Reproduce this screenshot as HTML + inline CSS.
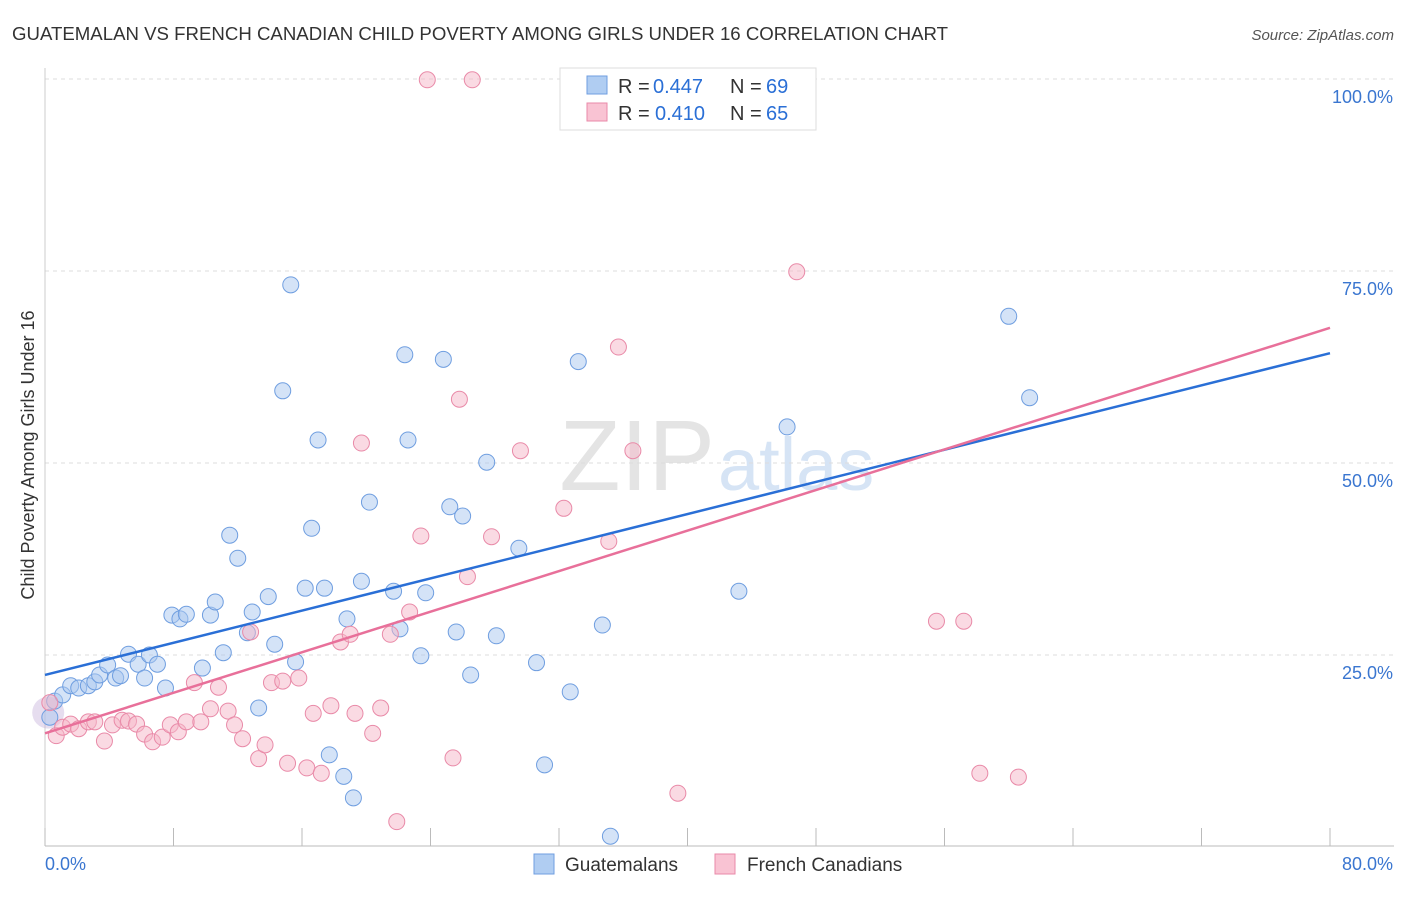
<!DOCTYPE html>
<html><head><meta charset="utf-8">
<style>
body{margin:0;background:#fff;font-family:"Liberation Sans",sans-serif;}
svg text{font-family:"Liberation Sans",sans-serif;}
</style></head>
<body>
<svg width="1406" height="892" xmlns="http://www.w3.org/2000/svg">
<text x="12" y="40" font-size="18.5" fill="#333" textLength="936" lengthAdjust="spacingAndGlyphs">GUATEMALAN VS FRENCH CANADIAN CHILD POVERTY AMONG GIRLS UNDER 16 CORRELATION CHART</text>
<text x="1394" y="40" font-size="15" fill="#555" text-anchor="end" font-style="italic">Source: ZipAtlas.com</text>
<text x="715" y="490" font-size="100" fill="#e4e4e4" text-anchor="end" font-family="Liberation Serif">ZIP</text>
<text x="718" y="490" font-size="74" fill="#d6e4f5">atlas</text>
<g id="grid"></g>
<g id="axes"></g>
<g id="marks"></g>
<text transform="translate(34,455) rotate(-90)" font-size="18" fill="#333" text-anchor="middle">Child Poverty Among Girls Under 16</text>
<g>
<rect x="560" y="68" width="256" height="62" fill="#fff" stroke="#ddd"/>
<rect x="587" y="76" width="20" height="18" fill="#b0cdf2" stroke="#6f9ee0"/>
<rect x="587" y="103" width="20" height="18" fill="#f9c3d3" stroke="#e98aa8"/>
<text x="618" y="93" font-size="20" fill="#333">R =</text>
<text x="653" y="93" font-size="20" fill="#2a6fd6">0.447</text>
<text x="730" y="93" font-size="20" fill="#333">N =</text>
<text x="766" y="93" font-size="20" fill="#2a6fd6">69</text>
<text x="618" y="120" font-size="20" fill="#333">R =</text>
<text x="655" y="120" font-size="20" fill="#2a6fd6">0.410</text>
<text x="730" y="120" font-size="20" fill="#333">N =</text>
<text x="766" y="120" font-size="20" fill="#2a6fd6">65</text>
</g>
<g>
<rect x="534" y="854" width="20" height="20" fill="#b0cdf2" stroke="#6f9ee0"/>
<text x="565" y="871" font-size="19" fill="#333">Guatemalans</text>
<rect x="715" y="854" width="20" height="20" fill="#f9c3d3" stroke="#e98aa8"/>
<text x="747" y="871" font-size="19" fill="#333">French Canadians</text>
</g>
</svg>
<script>
const blueX=[0.3,0.6,1.1,1.6,2.1,2.7,3.1,3.4,3.9,4.4,4.7,5.2,5.8,6.2,6.5,7.0,7.5,7.9,8.4,8.8,9.8,10.3,10.6,11.1,11.5,12.0,12.6,12.9,13.3,13.9,14.3,14.8,15.3,15.6,16.2,16.6,17.0,17.4,17.7,18.6,18.8,19.2,19.7,20.2,21.7,22.1,22.4,22.6,23.4,23.7,24.8,25.2,25.6,26.0,26.5,27.5,28.1,29.5,30.6,31.1,32.7,33.2,34.7,35.2,43.2,46.2,60.0,61.3];
const blueY=[16.9,19.0,19.8,21.0,20.7,21.0,21.5,22.4,23.7,22.0,22.3,25.1,23.8,22.0,25.0,23.8,20.7,30.2,29.7,30.3,23.3,30.2,31.9,25.3,40.6,37.6,27.9,30.6,18.1,32.6,26.4,59.4,73.2,24.1,33.7,41.5,53.0,33.7,12.0,9.2,29.7,6.4,34.6,44.9,33.3,28.4,64.1,53.0,24.9,33.1,63.5,44.3,28.0,43.1,22.4,50.1,27.5,38.9,24.0,10.7,20.2,63.2,28.9,1.4,33.3,54.7,69.1,58.5];
const pinkX=[0.3,0.7,1.1,1.6,2.1,2.7,3.1,3.7,4.2,4.8,5.2,5.7,6.2,6.7,7.3,7.8,8.3,8.8,9.3,9.7,10.3,10.8,11.4,11.8,12.3,12.8,13.3,13.7,14.1,14.8,15.1,15.8,16.3,16.7,17.2,17.8,18.4,19.0,19.3,19.7,20.4,20.9,21.5,21.9,22.7,23.4,23.8,25.4,25.8,26.3,26.6,27.8,29.6,32.3,35.1,35.7,36.6,39.4,46.8,55.5,57.2,58.2,60.6];
const pinkY=[18.8,14.5,15.6,16.0,15.4,16.3,16.3,13.8,15.9,16.5,16.4,16.0,14.7,13.7,14.3,15.9,15.0,16.3,21.4,16.3,18.0,20.8,17.7,15.9,14.1,28.0,11.5,13.3,21.4,21.6,10.9,22.0,10.3,17.4,9.6,18.4,26.7,27.7,17.4,52.6,14.8,18.1,27.7,3.3,30.6,40.5,99.9,11.6,58.3,35.2,99.9,40.4,51.6,44.1,39.8,65.1,51.6,7.0,74.9,29.4,29.4,9.6,9.1];
const blueTrend=[22.4,64.3];
const pinkTrend=[14.8,67.6];
const trendX=[0,80];
const yTicks=[25,50,75,100];
const yTickLabels=["25.0%","50.0%","75.0%","100.0%"];
const xTicks=[0,8,16,24,32,40,48,56,64,72,80];
const NS="http://www.w3.org/2000/svg";
const sx=v=>45+v/80*1285, sy=v=>847-v*7.68;
function mk(tag,attrs,parent){const e=document.createElementNS(NS,tag);for(const k in attrs)e.setAttribute(k,attrs[k]);parent.appendChild(e);return e;}
const grid=document.getElementById('grid'),axes=document.getElementById('axes'),marks=document.getElementById('marks');
yTicks.forEach((t,i)=>{
 const l=mk('line',{x1:45,x2:1394,y1:sy(t),y2:sy(t),stroke:'#ddd','stroke-dasharray':'4,4'},grid);
 
 
 const tx=mk('text',{x:1393,y:sy(t)+24,'font-size':18,fill:'#3a76d0','text-anchor':'end'},axes);
 tx.textContent=yTickLabels[i];
 
 
});
const ax=mk('line',{x1:45,x2:1394,y1:846,y2:846,stroke:'#bbb'},axes);


const ay=mk('line',{x1:45,x2:45,y1:68,y2:846,stroke:'#ccc'},axes);


xTicks.forEach(t=>{
 const l=mk('line',{x1:sx(t),x2:sx(t),y1:828,y2:846,stroke:'#bbb'},axes);
 
 
});
const xl0=mk('text',{x:45,y:870,'font-size':18,fill:'#3a76d0'},axes);xl0.textContent="0.0%";


const xl1=mk('text',{x:1393,y:870,'font-size':18,fill:'#3a76d0','text-anchor':'end'},axes);xl1.textContent="80.0%";


const big=mk('circle',{cx:sx(0.2),cy:sy(17.5),r:16,fill:'rgba(200,180,220,0.45)',stroke:'none'},marks);


blueX.forEach((x,i)=>{
 const c=mk('circle',{cx:sx(x),cy:sy(blueY[i]),r:8,fill:'rgba(169,200,240,0.5)',stroke:'#6f9ee0','stroke-width':1},marks);
 
 
});
pinkX.forEach((x,i)=>{
 const c=mk('circle',{cx:sx(x),cy:sy(pinkY[i]),r:8,fill:'rgba(245,181,200,0.5)',stroke:'#e98aa8','stroke-width':1},marks);
 
 
});
const bl=mk('line',{x1:sx(trendX[0]),y1:sy(blueTrend[0]),x2:sx(trendX[1]),y2:sy(blueTrend[1]),stroke:'#2a6fd6','stroke-width':2.5},marks);


const pl=mk('line',{x1:sx(trendX[0]),y1:sy(pinkTrend[0]),x2:sx(trendX[1]),y2:sy(pinkTrend[1]),stroke:'#e8709a','stroke-width':2.5},marks);


</script>
</body></html>
